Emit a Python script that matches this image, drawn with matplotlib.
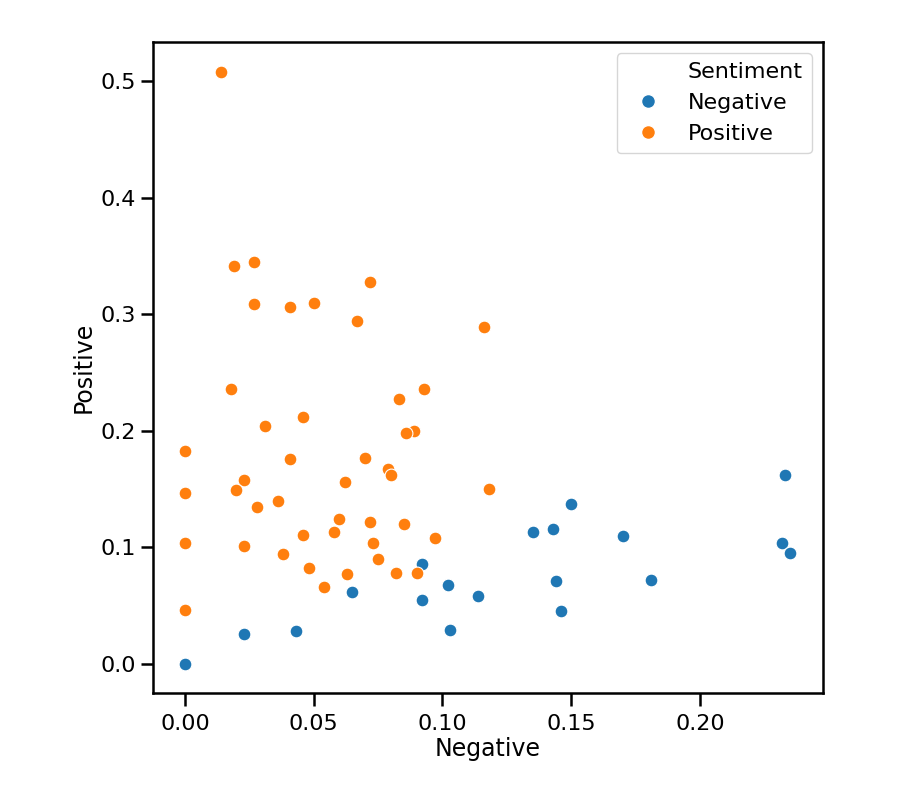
import matplotlib
matplotlib.use("Agg")
import matplotlib.pyplot as plt
from matplotlib.lines import Line2D

# sentiment scores
neg_pos_x = [0.014, 0.019, 0.027, 0.027, 0.041, 0.050, 0.072, 0.067, 0.116,
             0.018, 0.093, 0.083, 0.046, 0.031, 0.089, 0.086, 0.000, 0.041,
             0.070, 0.079, 0.080, 0.023, 0.062, 0.020, 0.118, 0.000, 0.036,
             0.028, 0.060, 0.072, 0.085, 0.058, 0.046, 0.097, 0.000, 0.073,
             0.023, 0.038, 0.075, 0.048, 0.090, 0.082, 0.063, 0.054, 0.000]
pos_pos_y = [0.508, 0.341, 0.345, 0.309, 0.306, 0.310, 0.328, 0.294, 0.289,
             0.236, 0.236, 0.227, 0.212, 0.204, 0.200, 0.198, 0.183, 0.176,
             0.177, 0.167, 0.162, 0.158, 0.156, 0.149, 0.150, 0.147, 0.140,
             0.135, 0.124, 0.122, 0.120, 0.113, 0.111, 0.108, 0.104, 0.104,
             0.101, 0.094, 0.090, 0.082, 0.078, 0.078, 0.077, 0.066, 0.046]

neg_neg_x = [0.000, 0.023, 0.043, 0.065, 0.092, 0.092, 0.102, 0.103, 0.114,
             0.135, 0.143, 0.150, 0.144, 0.146, 0.170, 0.181, 0.233, 0.232,
             0.235]
pos_neg_y = [0.000, 0.026, 0.028, 0.062, 0.086, 0.055, 0.068, 0.029, 0.058,
             0.113, 0.116, 0.137, 0.071, 0.045, 0.110, 0.072, 0.162, 0.104,
             0.095]

blue = "#1f77b4"
orange = "#ff7f0e"

fig = plt.figure(figsize=(9, 7.98), dpi=100)
fig.patch.set_alpha(0)
ax = fig.add_axes([0.17, 0.1316, 0.7444, 0.8158])
ax.set_facecolor("white")

ax.scatter(neg_neg_x, pos_neg_y, s=85, color=blue, edgecolor="white", linewidth=0.8, zorder=3)
ax.scatter(neg_pos_x, pos_pos_y, s=85, color=orange, edgecolor="white", linewidth=0.8, zorder=3)

ax.set_xlim(-0.0124, 0.2478)
ax.set_ylim(-0.0249, 0.5335)
ax.set_xticks([0.00, 0.05, 0.10, 0.15, 0.20])
ax.set_yticks([0.0, 0.1, 0.2, 0.3, 0.4, 0.5])
ax.set_xticklabels(["0.00", "0.05", "0.10", "0.15", "0.20"])
ax.set_yticklabels(["0.0", "0.1", "0.2", "0.3", "0.4", "0.5"])
ax.tick_params(labelsize=16, length=9, width=1.8)
ax.tick_params(axis="x", pad=6)
ax.tick_params(axis="y", pad=3)
for sp in ax.spines.values():
    sp.set_linewidth(1.8)

ax.set_xlabel("Negative", fontsize=17, labelpad=2)
ax.set_ylabel("Positive", fontsize=17, labelpad=4)

handles = [Line2D([], [], linestyle="none"),
           Line2D([], [], marker="o", linestyle="none", color=blue, markeredgecolor="white", markersize=10),
           Line2D([], [], marker="o", linestyle="none", color=orange, markeredgecolor="white", markersize=10)]
ax.legend(handles, ["Sentiment", "Negative", "Positive"], loc="upper right",
          fontsize=16, handletextpad=0.8, borderpad=0.4, labelspacing=0.5)

fig.savefig("out.png", dpi=100, facecolor="none")
